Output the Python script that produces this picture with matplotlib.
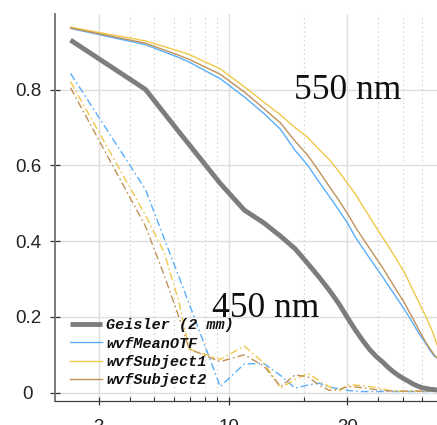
import numpy as np
import matplotlib
matplotlib.use("Agg")
import matplotlib.pyplot as plt
from matplotlib.ticker import FixedLocator, NullFormatter

# Spatial frequency samples (cycles/deg)
freq = [2.31, 4.62, 5.5, 6.3, 6.93, 9.24, 11.55, 13.86, 16.17, 18.48, 20.79,
        23.1, 25.41, 27.72, 30.03, 32.34, 34.65, 36.96, 39.27, 41.58, 43.89,
        46.2, 48.51, 50.82, 53.13, 55.44, 57.75, 60.06, 62.37, 64.68, 66.99, 69.3]

# Geisler (2 mm pupil) MTF
geisler = [0.931, 0.801, 0.738, 0.689, 0.655, 0.5525, 0.482, 0.448, 0.413, 0.38,
           0.341, 0.305, 0.27, 0.235, 0.198, 0.165, 0.137, 0.113, 0.095, 0.081,
           0.066, 0.054, 0.044, 0.036, 0.029, 0.022, 0.017, 0.013, 0.011, 0.009,
           0.008, 0.007]

# 550 nm MTFs
mean_550 = [0.962, 0.919, 0.90, 0.885, 0.873, 0.829, 0.781, 0.737, 0.695, 0.64,
            0.60, 0.556, 0.518, 0.482, 0.448, 0.41, 0.381, 0.354, 0.329, 0.306,
            0.282, 0.261, 0.24, 0.22, 0.20, 0.18, 0.16, 0.143, 0.127, 0.111,
            0.097, 0.09]
subj1_550 = [0.965, 0.929, 0.914, 0.902, 0.893, 0.855, 0.808, 0.767, 0.733, 0.70,
             0.674, 0.642, 0.615, 0.584, 0.553, 0.524, 0.492, 0.463, 0.435, 0.41,
             0.386, 0.363, 0.34, 0.318, 0.292, 0.267, 0.243, 0.22, 0.198, 0.175,
             0.15, 0.12]
subj2_550 = [0.963, 0.923, 0.905, 0.891, 0.880, 0.841, 0.794, 0.75, 0.712, 0.664,
             0.627, 0.584, 0.544, 0.508, 0.473, 0.437, 0.407, 0.38, 0.354, 0.33,
             0.305, 0.281, 0.259, 0.238, 0.214, 0.192, 0.17, 0.149, 0.13, 0.115,
             0.10, 0.09]

# 450 nm MTFs
mean_450 = [0.843, 0.537, 0.407, 0.306, 0.235, 0.016, 0.076, 0.077, 0.045, 0.012,
            0.02, 0.025, 0.015, 0.01, 0.006, 0.004, 0.003, 0.003, 0.003, 0.003,
            0.003, 0.003, 0.003, 0.003, 0.003, 0.003, 0.003, 0.003, 0.003, 0.003,
            0.003, 0.003]
subj1_450 = [0.821, 0.469, 0.37, 0.24, 0.115, 0.088, 0.123, 0.078, 0.012, 0.035,
             0.051, 0.032, 0.015, 0.004, 0.02, 0.02, 0.018, 0.016, 0.014, 0.01,
             0.006, 0.004, 0.004, 0.004, 0.004, 0.004, 0.004, 0.004, 0.004, 0.004,
             0.004, 0.004]
subj2_450 = [0.805, 0.44, 0.31, 0.20, 0.115, 0.082, 0.100, 0.07, 0.016, 0.047,
             0.042, 0.02, 0.006, 0.008, 0.016, 0.015, 0.013, 0.01, 0.008, 0.006,
             0.005, 0.004, 0.004, 0.004, 0.004, 0.004, 0.004, 0.004, 0.004, 0.004,
             0.004, 0.004]

legend_labels = ["Geisler (2 mm)", "wvfMeanOTF", "wvfSubject1", "wvfSubject2"]
x_ticks = [3, 10, 30]
x_tick_labels = ["3", "10", "30"]
y_ticks = [0, 0.2, 0.4, 0.6, 0.8]
y_tick_labels = ["0", "0.2", "0.4", "0.6", "0.8"]

C_GRAY = "#7d7d7d"
C_BLUE = "#5aaefa"
C_YELLOW = "#f0c84a"
C_BROWN = "#c0925a"

W, H = 437, 425
fig = plt.figure(figsize=(W / 100, H / 100), dpi=100)
ax_l, ax_b, ax_t = 55, 24, 14
ax = fig.add_axes([ax_l / W, ax_b / H, 1 - ax_l / W, (H - ax_b - ax_t) / H])

ax.set_xscale("log")
decade_px = 248.6
xmin = 2.0
xmax = xmin * 10 ** ((W - ax_l) / decade_px)
ax.set_xlim(xmin, xmax)
ax.set_ylim(-0.022, 1.0)

# grid
minor = [4, 5, 6, 7, 8, 9, 20, 40, 50, 60]
ax.xaxis.set_major_locator(FixedLocator(x_ticks))
ax.xaxis.set_minor_locator(FixedLocator(minor))
ax.xaxis.set_minor_formatter(NullFormatter())
ax.set_xticklabels(x_tick_labels)
ax.set_yticks(y_ticks)
ax.set_yticklabels(y_tick_labels)
ax.yaxis.set_minor_locator(FixedLocator([]))
ax.grid(True, which="major", color="#dedede", lw=1.0, zorder=0)
ax.grid(True, which="minor", axis="x", color="#c4c4c4", lw=0.8,
        linestyle=(0, (1, 3)), zorder=0)
ax.set_axisbelow(True)

for s in ("top", "right"):
    ax.spines[s].set_visible(False)
ax.spines["left"].set_color("#707070")
ax.spines["left"].set_linewidth(1.3)
ax.spines["bottom"].set_color("#404040")
ax.spines["bottom"].set_linewidth(0.9)

ax.tick_params(axis="y", which="major", direction="inout", length=7, width=0.9,
               color="#303030", labelsize=13.5, labelcolor="#222222")
ax.tick_params(axis="x", which="major", direction="inout", length=6, width=0.9,
               color="#303030", labelsize=13.5, labelcolor="#222222", pad=10)
ax.tick_params(axis="x", which="minor", direction="in", length=3, width=0.8,
               color="#303030")
for lab in ax.get_yticklabels():
    lab.set_horizontalalignment("center")
    lab.set_fontfamily("Liberation Sans")
for lab in ax.get_xticklabels():
    lab.set_fontfamily("Liberation Sans")
ax.yaxis.set_tick_params(pad=16)

dd = (0, (5.5, 2.2, 1.2, 2.2))
ax.plot(freq, mean_450, color=C_BLUE, lw=1.0, linestyle=dd)
ax.plot(freq, subj1_450, color=C_YELLOW, lw=1.0, linestyle=dd)
ax.plot(freq, subj2_450, color=C_BROWN, lw=1.0, linestyle=dd)

h_g, = ax.plot(freq, geisler, color=C_GRAY, lw=3.5, solid_capstyle="butt")
h_m, = ax.plot(freq, mean_550, color=C_BLUE, lw=1.0)
h_1, = ax.plot(freq, subj1_550, color=C_YELLOW, lw=1.0)
h_2, = ax.plot(freq, subj2_550, color=C_BROWN, lw=1.0)

leg = ax.legend([h_g, h_m, h_1, h_2], legend_labels, loc="lower left",
                bbox_to_anchor=(0.039, 0.036), frameon=False,
                borderpad=0, borderaxespad=0, handlelength=2.1,
                handletextpad=0.3, labelspacing=0.28,
                prop=dict(family="Liberation Mono", weight="bold",
                          style="italic", size=10.9))
for t in leg.get_texts():
    t.set_color("#111111")

ax.text(294, H - 99, "550 nm", transform=None, fontsize=25.5,
        family="Liberation Serif", color="#111111", zorder=10)
ax.text(212, H - 316.7, "450 nm", transform=None, fontsize=25.5,
        family="Liberation Serif", color="#111111", zorder=10)

fig.savefig("out.png", dpi=100)
